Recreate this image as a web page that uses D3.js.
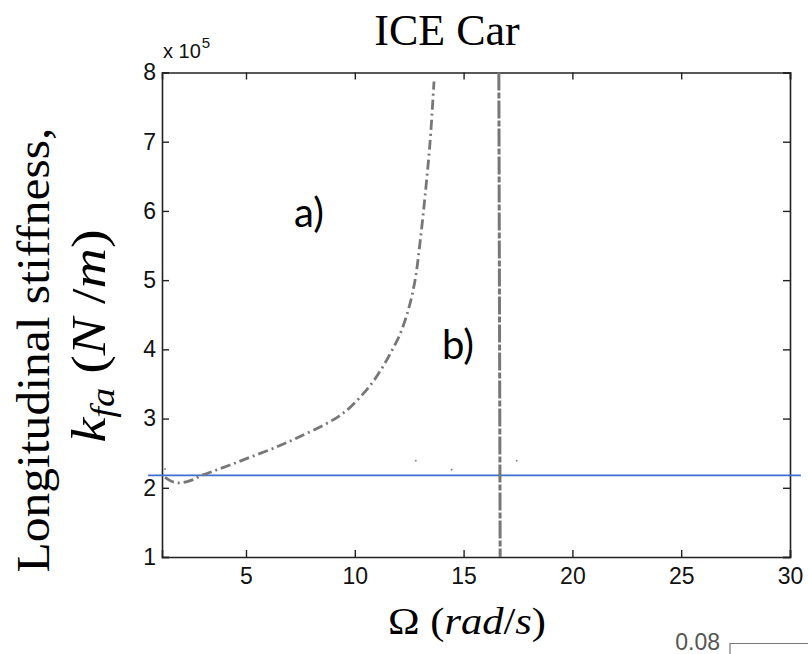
<!DOCTYPE html>
<html>
<head>
<meta charset="utf-8">
<script src="https://cdn.jsdelivr.net/npm/d3@7"></script>
<style>
  html, body { margin: 0; padding: 0; background: #fff; }
  svg { display: block; }
</style>
</head>
<body>
<svg id="chart" width="808" height="654"></svg>
<script>
// Branch a): stiffness vs. frequency (x in rad/s, y in units of 1e5 N/m)
const curveA_x = [1.28, 1.6, 1.97, 2.5, 2.89, 3.5, 4.27, 5.18, 6.41, 7.48, 8.71, 9.3, 9.78, 10.39, 10.9, 11.31, 11.7, 12.08, 12.46, 12.77, 13.0, 13.23, 13.46, 13.64];
const curveA_y = [2.15, 2.09, 2.07, 2.11, 2.17, 2.24, 2.33, 2.44, 2.59, 2.74, 2.93, 3.04, 3.16, 3.36, 3.56, 3.76, 3.98, 4.22, 4.57, 5.0, 5.55, 6.22, 7.0, 7.87];

// Branch b): near-vertical asymptote
const curveB_x = [16.62, 16.65, 16.68];
const curveB_y = [8.0, 4.5, 1.0];

// Isolated solution points
const dots_x = [1.28, 12.80, 14.45, 17.44];
const dots_y = [2.27, 2.39, 2.26, 2.39];

// Reference stiffness level
const refLine_x = [0.5, 30.5];
const refLine_y = [2.18, 2.18];

const xTicks = [5, 10, 15, 20, 25, 30];
const yTicks = [1, 2, 3, 4, 5, 6, 7, 8];
const xDomain = [1.14, 30];
const yDomain = [1, 8];

const svg = d3.select("#chart");
const plotLeft = 162, plotRight = 790, plotTop = 72.5, plotBottom = 557;

const x = d3.scaleLinear().domain(xDomain).range([plotLeft, plotRight]);
const y = d3.scaleLinear().domain(yDomain).range([plotBottom, plotTop]);

const tickFont = "'Liberation Sans', Arial, sans-serif";

// Axes with inward ticks on all four sides
const gx = svg.append("g").attr("transform", `translate(0,${plotBottom})`)
  .call(d3.axisBottom(x).tickValues(xTicks).tickSize(-7).tickPadding(11).tickFormat(d3.format("d")));
const gxTop = svg.append("g").attr("transform", `translate(0,${plotTop})`)
  .call(d3.axisTop(x).tickValues(xTicks).tickSize(-7).tickFormat(""));
const gy = svg.append("g").attr("transform", `translate(${plotLeft},0)`)
  .call(d3.axisLeft(y).tickValues(yTicks).tickSize(-7).tickPadding(6).tickFormat(d3.format("d")));
const gyRight = svg.append("g").attr("transform", `translate(${plotRight},0)`)
  .call(d3.axisRight(y).tickValues(yTicks).tickSize(-7).tickFormat(""));

[gx, gxTop, gy, gyRight].forEach(g => {
  g.selectAll(".domain").attr("stroke", "#222").attr("stroke-width", 1.6);
  g.selectAll(".tick line").attr("stroke", "#222").attr("stroke-width", 1.4);
  g.selectAll(".tick text").attr("font-family", tickFont).attr("font-size", 23).attr("fill", "#111");
});

// Exponent marker
const expo = svg.append("text")
  .attr("x", x(xDomain[0]) + 1).attr("y", 58)
  .attr("font-family", tickFont).attr("font-size", 20).attr("fill", "#111");
expo.append("tspan").text("x 10");
expo.append("tspan").attr("dx", 1).attr("dy", -10).attr("font-size", 15).text("5");

// Reference line
const refData = refLine_x.map((d, i) => [d, refLine_y[i]]);
svg.append("path")
  .attr("d", d3.line().x(d => x(d[0])).y(d => y(d[1]))(refData))
  .attr("fill", "none").attr("stroke", "#3f6fcf").attr("stroke-width", 1.6);

// Branch a)
const aData = curveA_x.map((d, i) => [d, curveA_y[i]]);
svg.append("path")
  .attr("d", d3.line().x(d => x(d[0])).y(d => y(d[1])).curve(d3.curveCatmullRom)(aData))
  .attr("fill", "none").attr("stroke", "#777").attr("stroke-width", 2.8)
  .attr("stroke-dasharray", "10,4,2,4");

// Branch b)
const bData = curveB_x.map((d, i) => [d, curveB_y[i]]);
svg.append("path")
  .attr("d", d3.line().x(d => x(d[0])).y(d => y(d[1]))(bData))
  .attr("fill", "none").attr("stroke", "#777").attr("stroke-width", 3)
  .attr("stroke-dasharray", "18,2,6,2");

// Stray points
svg.selectAll("circle.dot").data(dots_x.map((d, i) => [d, dots_y[i]]))
  .enter().append("circle").attr("class", "dot")
  .attr("cx", d => x(d[0])).attr("cy", d => y(d[1])).attr("r", 1)
  .attr("fill", "#888");

// Branch labels
const labelFont = "Lato, 'Open Sans', sans-serif";
svg.append("text").attr("x", 294).attr("y", 227)
  .attr("font-family", labelFont).attr("font-size", 40).attr("fill", "#000").text("a)");
svg.append("text").attr("x", 442).attr("y", 359)
  .attr("font-family", labelFont).attr("font-size", 40).attr("fill", "#000").text("b)");

// Title
const serif = "'Liberation Serif', 'DejaVu Serif', serif";
svg.append("text").attr("x", 447).attr("y", 45).attr("text-anchor", "middle")
  .attr("font-family", serif).attr("font-size", 44).attr("fill", "#000").text("ICE Car");

// Y axis title (two lines)
svg.append("text")
  .attr("transform", "translate(49,350) rotate(-90)")
  .attr("text-anchor", "middle")
  .attr("font-family", serif).attr("font-size", 46).attr("fill", "#000")
  .attr("textLength", 445).attr("lengthAdjust", "spacingAndGlyphs")
  .text("Longitudinal stiffness,");

const yl2 = svg.append("text")
  .attr("transform", "translate(105,336) rotate(-90)")
  .attr("text-anchor", "middle")
  .attr("font-family", serif).attr("font-size", 48).attr("fill", "#000")
  .attr("textLength", 213).attr("lengthAdjust", "spacingAndGlyphs");
yl2.append("tspan").attr("font-style", "italic").text("k");
yl2.append("tspan").attr("font-style", "italic").attr("font-size", 33).attr("dy", 9).text("fa");
yl2.append("tspan").attr("dy", -9).text(" (");
yl2.append("tspan").attr("font-style", "italic").text("N");
yl2.append("tspan").text(" /");
yl2.append("tspan").attr("font-style", "italic").text("m");
yl2.append("tspan").text(")");

// X axis title
const xl = svg.append("text")
  .attr("x", 467).attr("y", 634).attr("text-anchor", "middle")
  .attr("font-family", serif).attr("font-size", 38).attr("fill", "#000")
  .attr("textLength", 158).attr("lengthAdjust", "spacingAndGlyphs");
xl.append("tspan").text("Ω (");
xl.append("tspan").attr("font-style", "italic").text("rad");
xl.append("tspan").text("/");
xl.append("tspan").attr("font-style", "italic").text("s");
xl.append("tspan").text(")");

// Edge of the neighbouring panel
svg.append("text").attr("x", 720).attr("y", 650).attr("text-anchor", "end")
  .attr("font-family", tickFont).attr("font-size", 23).attr("fill", "#555").text("0.08");
svg.append("path").attr("d", "M730,654 V643.5 H808")
  .attr("fill", "none").attr("stroke", "#777").attr("stroke-width", 1.2);
</script>
</body>
</html>
